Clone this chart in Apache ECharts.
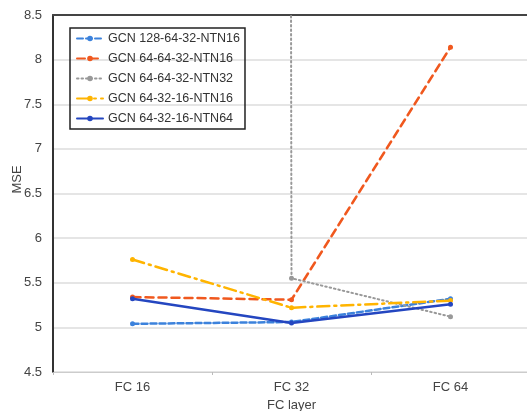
<!DOCTYPE html>
<html>
<head>
<meta charset="utf-8">
<script src="https://cdn.jsdelivr.net/npm/echarts@6/dist/echarts.min.js"></script>
<style>
  html, body { margin: 0; padding: 0; background: #fff; }
  #chart { width: 527px; height: 411px; }
</style>
</head>
<body>
<div id="chart"></div>
<script>
// categories on the x axis
var categories = ["FC 16", "FC 32", "FC 64"];

// series values (MSE)
var gcn128_64_32_ntn16 = [5.04, 5.06, 5.32];
var gcn64_64_32_ntn16 = [5.34, 5.31, 8.14];
var gcn64_64_32_ntn32 = [1000, 5.55, 5.12]; // FC 16 far off the scale
var gcn64_32_16_ntn16 = [5.76, 5.22, 5.3];
var gcn64_32_16_ntn64 = [5.32, 5.05, 5.26];

var seriesNames = [
  "GCN 128-64-32-NTN16",
  "GCN 64-64-32-NTN16",
  "GCN 64-64-32-NTN32",
  "GCN 64-32-16-NTN16",
  "GCN 64-32-16-NTN64"
];

var font = "'Liberation Sans', Arial, sans-serif";

function makeSeries(name, data, color, dash, width) {
  return {
    name: name,
    type: "line",
    data: data,
    symbol: "circle",
    symbolSize: 5,
    clip: true,
    itemStyle: { color: color },
    lineStyle: { color: color, width: width, type: dash, cap: "round" },
    z: 3
  };
}

var chart = echarts.init(document.getElementById("chart"));
var option = {
  animation: false,
  textStyle: { fontFamily: font },
  grid: { left: 53, top: 15, width: 477, height: 357, outerBoundsMode: "none", containLabel: false },
  legend: {
    orient: "vertical",
    left: 70,
    top: 28,
    data: seriesNames,
    itemWidth: 26,
    itemHeight: 7,
    itemGap: 7,
    padding: [4, 5, 4, 6],
    borderColor: "#222",
    borderWidth: 1.5,
    textStyle: { fontSize: 12.5, color: "#333", fontFamily: font }
  },
  xAxis: [
    {
      type: "category",
      data: categories,
      name: "FC layer",
      nameLocation: "middle",
      nameGap: 25,
      nameTextStyle: { fontSize: 13, color: "#444", verticalAlign: "top" },
      axisLine: { lineStyle: { color: "#ccc", width: 1 } },
      axisTick: { show: true, length: 3, lineStyle: { color: "#bbb" } },
      axisLabel: { fontSize: 13, color: "#444", margin: 9 }
    },
    {
      type: "category",
      data: categories,
      position: "top",
      axisLine: { lineStyle: { color: "#444", width: 2 } },
      axisTick: { show: false },
      axisLabel: { show: false }
    }
  ],
  yAxis: {
    type: "value",
    min: 4.5,
    max: 8.5,
    interval: 0.5,
    name: "MSE",
    nameLocation: "middle",
    nameGap: 29,
    nameMoveOverlap: false,
    nameTextStyle: { fontSize: 13, color: "#444", padding: [0, 0, 0, 28] },
    axisLine: { show: true, lineStyle: { color: "#333", width: 2 } },
    axisTick: { show: false },
    axisLabel: { fontSize: 13, color: "#444", margin: 11 },
    splitLine: { lineStyle: { color: "#ddd", width: 1.5 } }
  },
  series: [
    makeSeries(seriesNames[0], gcn128_64_32_ntn16, "#3c82dc", [6, 3], 2.5),
    makeSeries(seriesNames[1], gcn64_64_32_ntn16, "#f0581e", [8, 5], 2.5),
    makeSeries(seriesNames[2], gcn64_64_32_ntn32, "#999999", [1.5, 3], 2),
    makeSeries(seriesNames[3], gcn64_32_16_ntn16, "#ffb400", [12, 5, 2, 5], 2.5),
    makeSeries(seriesNames[4], gcn64_32_16_ntn64, "#2446c0", "solid", 2.5)
  ]
};
chart.setOption(option);
</script>
</body>
</html>
